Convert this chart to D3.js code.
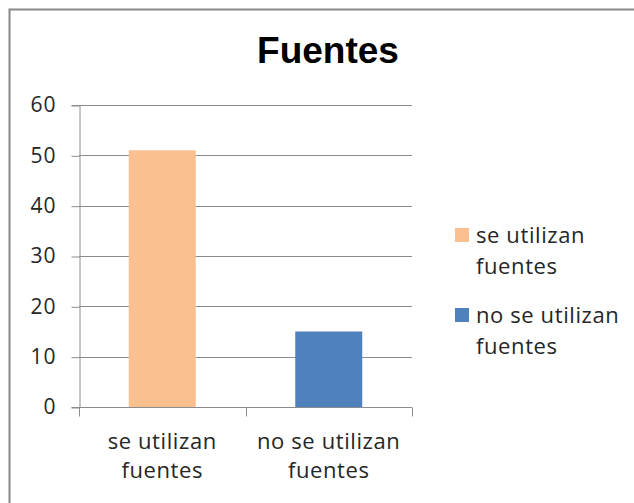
<!DOCTYPE html>
<html>
<head>
<meta charset="utf-8">
<script src="https://cdn.jsdelivr.net/npm/d3@7"></script>
<style>
  body { margin: 0; background: #fff; }
  svg { display: block; }
</style>
</head>
<body>
<svg id="chart" width="634" height="503"></svg>
<script>
// chart data
const categories = ['se utilizan fuentes', 'no se utilizan fuentes']
const values = [51, 15]
const colors = ['#FAC090', '#4F81BD']
const yTicks = [0, 10, 20, 30, 40, 50, 60]
const title = 'Fuentes'

const svg = d3.select('#chart')
const font = '"Open Sans", Lato, sans-serif'

// outer frame (right and bottom are cut off by the picture)
svg.append('rect')
  .attr('x', 9.5).attr('y', 9.5)
  .attr('width', 700).attr('height', 600)
  .attr('fill', 'none')
  .attr('stroke', '#878787')
  .attr('stroke-width', 2)

svg.append('text')
  .attr('x', 328).attr('y', 63)
  .attr('text-anchor', 'middle')
  .attr('font-family', '"Liberation Sans", Arial, sans-serif')
  .attr('font-weight', 'bold')
  .attr('font-size', 37)
  .text(title)

const plotLeft = 79, plotRight = 412, plotTop = 105, plotBottom = 407

const x = d3.scaleBand().domain(categories).range([plotLeft, plotRight]).paddingInner(0).paddingOuter(0)
const y = d3.scaleLinear().domain([0, 60]).range([plotBottom, plotTop])

// gridlines
svg.append('g')
  .selectAll('line')
  .data(yTicks.filter(d => d > 0))
  .enter()
  .append('line')
  .attr('x1', plotLeft).attr('x2', plotRight)
  .attr('y1', d => Math.round(y(d)) + 0.5)
  .attr('y2', d => Math.round(y(d)) + 0.5)
  .attr('stroke', '#8c8c8c')

// y axis
const yAxis = svg.append('g')
  .attr('transform', `translate(${plotLeft + 0.5},0)`)
  .call(d3.axisLeft(y).tickValues(yTicks).tickSize(8).tickPadding(8).tickFormat(d3.format('d')))
yAxis.select('.domain').attr('stroke', '#8c8c8c')
yAxis.selectAll('.tick line').attr('stroke', '#8c8c8c')
  .attr('transform', 'translate(0,0.5)')
yAxis.selectAll('text')
  .attr('font-family', font)
  .attr('font-size', 21)
  .attr('letter-spacing', 1)
  .attr('fill', '#262626')
  .attr('dx', '-7')

// bars
const barW = 67
svg.append('g')
  .selectAll('rect')
  .data(values)
  .enter()
  .append('rect')
  .attr('x', (d, i) => x(categories[i]) + (x.bandwidth() - barW) / 2)
  .attr('y', d => y(d))
  .attr('width', barW)
  .attr('height', d => plotBottom - y(d))
  .attr('fill', (d, i) => colors[i])

// x axis
const xAxis = svg.append('g')
  .attr('transform', `translate(0,${plotBottom + 0.5})`)
xAxis.append('line')
  .attr('x1', plotLeft).attr('x2', plotRight)
  .attr('stroke', '#8c8c8c')
const xTickPos = [plotLeft, plotLeft + x.bandwidth(), plotRight]
xAxis.selectAll('.xt')
  .data(xTickPos)
  .enter()
  .append('line')
  .attr('class', 'xt')
  .attr('x1', d => Math.round(d) + 0.5).attr('x2', d => Math.round(d) + 0.5)
  .attr('y1', 0).attr('y2', 9)
  .attr('stroke', '#8c8c8c')

// category labels, wrapped to two lines
const splitLabel = s => {
  const i = s.lastIndexOf(' ')
  return [s.slice(0, i), s.slice(i + 1)]
}
categories.forEach((c, i) => {
  const t = svg.append('text')
    .attr('text-anchor', 'middle')
    .attr('font-family', font)
    .attr('font-size', 22)
    .attr('letter-spacing', 0.6)
    .attr('fill', '#262626')
  splitLabel(c).forEach((line, j) => {
    t.append('tspan')
      .attr('x', x(c) + x.bandwidth() / 2)
      .attr('y', 449 + j * 29)
      .text(line)
  })
})

// legend
const legend = svg.append('g')
categories.forEach((c, i) => {
  const gy = 228 + i * 80
  legend.append('rect')
    .attr('x', 455).attr('y', gy)
    .attr('width', 14).attr('height', 14)
    .attr('fill', colors[i])
  const t = legend.append('text')
    .attr('font-family', font)
    .attr('font-size', 22)
    .attr('letter-spacing', 0.6)
    .attr('fill', '#262626')
  splitLabel(c).forEach((line, j) => {
    t.append('tspan')
      .attr('x', 476)
      .attr('y', gy + 15 + j * 31)
      .text(line)
  })
})
</script>
</body>
</html>
